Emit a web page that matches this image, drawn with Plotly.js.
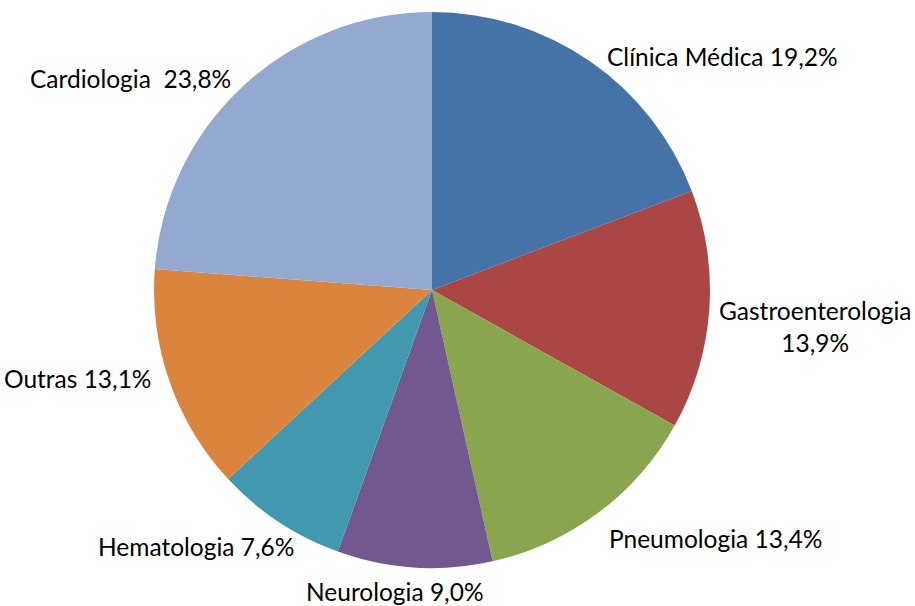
<!DOCTYPE html>
<html><head><meta charset="utf-8">
<script src="https://cdn.plot.ly/plotly-3.0.1.min.js"></script>
<style>html,body{margin:0;padding:0;background:#fff}#chart{width:915px;height:606px}</style>
</head><body><div id="chart"></div>
<script>
const categories = ["Clínica Médica", "Gastroenterologia", "Pneumologia", "Neurologia", "Hematologia", "Outras", "Cardiologia"];
const values = [19.2, 13.9, 13.4, 9.0, 7.6, 13.1, 23.8];
const labelTexts = ["Clínica Médica 19,2%", "Gastroenterologia<br>13,9%", "Pneumologia 13,4%", "Neurologia 9,0%", "Hematologia 7,6%", "Outras 13,1%", "Cardiologia  23,8%"];
const colors = ["#4572A7", "#AA4643", "#89A54E", "#71588F", "#4198AF", "#DB843D", "#93A9CF"];

// label placement style (anchor + pixel shift from the slice's outer mid-point)
const labelAnchors = ["left", "left", "left", "center", "right", "right", "right"];
const labelXShift = [15, 8, 9, -20, 17, -17, -10];
const labelYShift = [5, -16, -26, -24, -25, 3, 8];

const W = 915, H = 606;
const CX = 432, CY = 290, R = 278;

const trace = {
  type: 'pie',
  labels: categories,
  values: values,
  textinfo: 'none',
  sort: false,
  direction: 'clockwise',
  rotation: 0,
  marker: {colors: colors, line: {color: '#ffffff', width: 0}},
  domain: {x: [(CX - R) / W, (CX + R) / W], y: [(H - CY - R) / H, (H - CY + R) / H]},
  hoverinfo: 'label+percent'
};

const total = values.reduce((a, b) => a + b, 0);
let cum = 0;
const annotations = values.map((v, i) => {
  const mid = (cum + v / 2) / total * 2 * Math.PI;
  cum += v;
  const px = CX + R * Math.sin(mid);
  const py = CY - R * Math.cos(mid);
  return {
    xref: 'paper', yref: 'paper',
    x: px / W, y: 1 - py / H,
    text: labelTexts[i],
    showarrow: false,
    xanchor: labelAnchors[i], yanchor: 'middle',
    xshift: labelXShift[i], yshift: labelYShift[i],
    align: 'center',
    font: {family: 'Lato, "Open Sans", sans-serif', size: 24.5, color: '#000000'}
  };
});

Plotly.newPlot('chart', [trace], {
  width: W, height: H,
  margin: {l: 0, r: 0, t: 0, b: 0},
  showlegend: false,
  paper_bgcolor: '#ffffff',
  annotations: annotations
}, {displayModeBar: false, staticPlot: true});
</script></body></html>
